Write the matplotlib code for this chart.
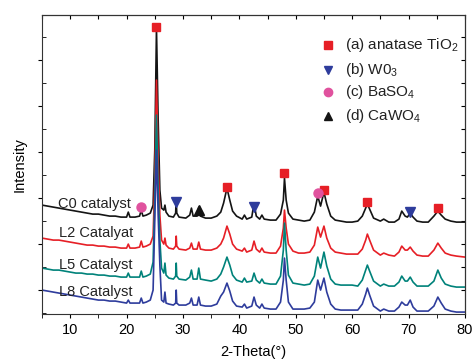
import matplotlib.pyplot as plt

plt.rcParams['font.family'] = ['Liberation Sans', 'DejaVu Sans']
plt.rcParams['mathtext.fontset'] = 'custom'
plt.rcParams['mathtext.rm'] = 'Liberation Sans'
plt.rcParams['mathtext.it'] = 'Liberation Sans'

# 2-theta grid shared by all four patterns
two_theta = [5, 6, 7, 8, 9, 10, 11, 12, 13, 14,
             15, 16, 17, 18, 19, 20, 20.3, 20.6, 21.5, 22.3,
             22.6, 22.9, 23.5, 24.2, 24.7, 25.0, 25.3, 25.6, 25.9, 26.2,
             26.6, 26.8, 27.0, 27.5, 28.3, 28.7, 28.8, 28.9, 29.3, 30.5,
             31.2, 31.5, 31.8, 32.5, 32.8, 33.1, 34, 35, 36, 36.7,
             37.2, 37.8, 38.3, 38.8, 39.5, 40.5, 40.9, 41.3, 42.2, 42.6,
             43.0, 43.6, 44.0, 44.4, 45.5, 46.5, 47.3, 47.8, 48.0, 48.3,
             48.7, 49.5, 50.5, 51.5, 52.5, 53.3, 53.9, 54.4, 55.0, 55.5,
             56.2, 57, 58, 59, 60, 61, 61.8, 62.4, 62.7, 63.1,
             63.8, 65, 65.6, 66.5, 67.5, 68.3, 68.8, 69.4, 69.8, 70.3,
             70.8, 71.5, 72.5, 73.5, 74.5, 75.2, 75.8, 76.5, 77.5, 78.5, 80]

c0 = [109, 108, 107, 106, 105, 104, 103, 102, 101, 100,
      100, 99, 98, 98, 97, 97, 102, 97, 97, 98,
      104, 98, 99, 101, 109, 164, 286, 194, 124, 106,
      104, 109, 102, 98, 97, 101, 114, 101, 97, 96,
      99, 106, 98, 98, 107, 98, 96, 96, 98, 102,
      111, 126, 114, 103, 98, 95, 99, 95, 97, 111,
      98, 95, 99, 95, 94, 94, 100, 114, 136, 114,
      101, 95, 94, 93, 94, 102, 118, 108, 122, 110,
      98, 94, 93, 92, 92, 93, 98, 106, 110, 105,
      96, 93, 95, 92, 92, 95, 103, 98, 97, 101,
      97, 93, 92, 92, 98, 103, 99, 95, 93, 92, 92]

l2 = [76, 75, 74, 74, 73, 72, 71, 70, 69, 69,
      68, 68, 67, 67, 66, 66, 70, 66, 66, 67,
      73, 67, 68, 70, 78, 134, 234, 154, 99, 74,
      70, 76, 69, 66, 65, 68, 78, 68, 65, 64,
      66, 71, 65, 65, 72, 65, 64, 64, 66, 70,
      76, 88, 80, 70, 65, 63, 66, 62, 64, 73,
      65, 62, 66, 62, 61, 61, 68, 86, 104, 86,
      70, 63, 61, 61, 62, 69, 87, 77, 88, 76,
      66, 62, 61, 60, 60, 60, 65, 74, 80, 74,
      64, 59, 61, 59, 58, 62, 68, 64, 64, 67,
      63, 59, 58, 58, 64, 71, 66, 61, 59, 58, 57]

l5 = [46, 45, 44, 44, 43, 42, 41, 41, 40, 40,
      39, 39, 38, 38, 37, 37, 41, 37, 37, 37,
      43, 37, 38, 40, 52, 114, 199, 124, 74, 46,
      41, 51, 39, 36, 35, 38, 51, 38, 35, 34,
      37, 44, 35, 35, 46, 35, 34, 33, 35, 40,
      47, 57, 49, 39, 34, 32, 36, 32, 33, 41,
      34, 31, 35, 31, 30, 30, 38, 64, 91, 64,
      39, 31, 30, 29, 30, 38, 57, 46, 62, 48,
      35, 30, 29, 29, 29, 28, 34, 44, 49, 43,
      33, 28, 30, 28, 28, 32, 38, 33, 33, 37,
      32, 28, 28, 28, 33, 44, 36, 30, 28, 27, 27]

l8 = [24, 23, 22, 21, 20, 19, 18, 17, 16, 15,
      14, 14, 13, 13, 12, 11, 14, 11, 11, 11,
      16, 11, 12, 14, 24, 94, 164, 99, 49, 14,
      12, 22, 11, 10, 9, 11, 24, 11, 9, 9,
      11, 16, 9, 9, 17, 9, 8, 8, 10, 18,
      22, 31, 23, 13, 8, 7, 10, 6, 8, 17,
      9, 6, 10, 6, 5, 5, 12, 34, 56, 34,
      12, 5, 5, 5, 6, 12, 34, 24, 36, 22,
      10, 5, 4, 4, 4, 4, 10, 20, 26, 19,
      8, 3, 5, 3, 3, 7, 12, 9, 9, 14,
      7, 3, 3, 3, 8, 17, 11, 5, 3, 2, 2]

series_names = ['C0 catalyst', 'L2 Catalyat', 'L5 Catalyst', 'L8 Catalyst']
series_colors = ['#141414', '#e61f26', '#00827a', '#2e3c9c']
name_x = [7.8, 8.1, 8.1, 8.1]
name_y = [110, 81, 49, 22]

# phase markers (2-theta, intensity)
tio2_x = [25.2, 37.8, 48.0, 55.0, 62.7, 75.2]
tio2_y = [287, 127, 141, 124, 112, 106]
wo3_x = [28.8, 42.6, 70.3]
wo3_y = [112, 107, 102]
baso4_x = [22.6, 53.9]
baso4_y = [107, 121]
cawo4_x = [32.9]
cawo4_y = [104]

fig = plt.figure(figsize=(4.72, 3.61), dpi=100)
ax = fig.add_axes([0.089, 0.130, 0.896, 0.828])

for ys, col in zip([c0, l2, l5, l8], series_colors):
    ax.plot(two_theta, ys, color=col, lw=1.2)

ax.plot(tio2_x, tio2_y, 's', color='#e61f26', ms=6, ls='none')
ax.plot(wo3_x, wo3_y, 'v', color='#2e3c9c', ms=6.5, ls='none')
ax.plot(baso4_x, baso4_y, 'o', color='#e0529e', ms=6.5, ls='none')
ax.plot(cawo4_x, cawo4_y, '^', color='#141414', ms=6.5, ls='none')

for name, x, y in zip(series_names, name_x, name_y):
    ax.text(x, y, name, fontsize=10.5, va='center', ha='left', color='#222222')

# legend drawn by hand
leg_labels = ['(a) anatase TiO$_2$', '(b) W0$_3$', '(c) BaSO$_4$', '(d) CaWO$_4$']
leg_marks = ['s', 'v', 'o', '^']
leg_colors = ['#e61f26', '#2e3c9c', '#e0529e', '#141414']
leg_y = [0.900, 0.818, 0.742, 0.664]
for lab, m, c, y in zip(leg_labels, leg_marks, leg_colors, leg_y):
    ax.plot([0.676], [y], m, color=c, ms=6, transform=ax.transAxes)
    ax.text(0.716, y, lab, fontsize=11, va='center', ha='left',
            transform=ax.transAxes, color='#222222')

ax.set_xlim(5, 80)
ax.set_ylim(0, 299)
ax.set_xticks([10, 20, 30, 40, 50, 60, 70, 80])
ax.set_xticks([5, 15, 25, 35, 45, 55, 65, 75], minor=True)
ax.tick_params(axis='x', which='both', direction='out', length=3, labelsize=10.5)
ax.set_yticks([24, 70, 116, 162, 208, 254])
ax.set_yticks([1, 47, 93, 139, 185, 231, 277], minor=True)
ax.tick_params(axis='y', which='major', direction='out', length=3, labelleft=False)
ax.tick_params(axis='y', which='minor', direction='in', length=3)

top = ax.secondary_xaxis('top')
top.set_xticks(list(range(5, 81, 5)))
top.tick_params(direction='in', length=3, labeltop=False)
right = ax.secondary_yaxis('right')
right.set_yticks([24, 47, 70, 93, 116, 139, 162, 185, 208, 231, 254, 277])
right.tick_params(direction='in', length=3, labelright=False)

for sp in ['left', 'right', 'top', 'bottom']:
    ax.spines[sp].set_color('#333333')

ax.set_xlabel('2-Theta(°)', fontsize=10.5, labelpad=6)
ax.set_ylabel('Intensity', fontsize=10.5, labelpad=8)

fig.savefig('out.png', dpi=100)
